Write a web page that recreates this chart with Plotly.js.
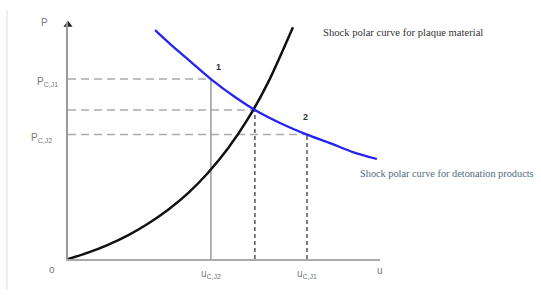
<!DOCTYPE html>
<html>
<head>
<meta charset="utf-8">
<script src="https://cdn.plot.ly/plotly-3.0.1.min.js"></script>
<style>html,body{margin:0;padding:0;background:#fff;}#chart{width:541px;height:295px;}</style>
</head>
<body>
<div id="chart"></div>
<script>
// Shock polar curve for plaque material (u, P)
var plaqueU = [0, 0.64, 1.28, 1.92, 2.56, 3.21, 3.85, 4.49, 5.13, 5.77, 6.41, 7.21];
var plaqueP = [0, 0.27, 0.60, 1.00, 1.49, 2.08, 2.78, 3.64, 4.67, 5.92, 7.44, 9.78];
// Shock polar curve for detonation products (u, P)
var detonU = [2.79, 3.37, 3.91, 4.62, 5.42, 5.99, 6.83, 7.66, 8.40, 9.13, 9.90];
var detonP = [9.66, 8.96, 8.35, 7.55, 6.77, 6.29, 5.72, 5.25, 4.89, 4.51, 4.22];
// characteristic levels
var uCJ2 = 4.58, uMid = 5.99, uCJ1 = 7.66;
var pCJ1 = 7.59, pMid = 6.29, pCJ2 = 5.25;
var axisMax = 10;
var pointLabels = ["1", "2"];
var tickLabelsP = ["P<sub>C,J1</sub>", "P<sub>C,J2</sub>"];
var tickLabelsU = ["u<sub>C,J2</sub>", "u<sub>C,J1</sub>"];
var axisLabels = ["P", "u", "o"];
var curveNames = ["Shock polar curve for plaque material", "Shock polar curve for detonation products"];

var grayDash = {color: '#aaaaaa', width: 1.5, dash: '8px,5px'};
var darkDash = {color: '#555555', width: 1.5, dash: '4px,3px'};

var traces = [
  {x: [0, uCJ2], y: [pCJ1, pCJ1], mode: 'lines', line: grayDash},
  {x: [0, uMid], y: [pMid, pMid], mode: 'lines', line: grayDash},
  {x: [0, uCJ1], y: [pCJ2, pCJ2], mode: 'lines', line: grayDash},
  {x: [uCJ2, uCJ2], y: [0, pCJ1], mode: 'lines', line: {color: '#999999', width: 1.5}},
  {x: [uMid, uMid], y: [0, pMid], mode: 'lines', line: darkDash},
  {x: [uCJ1, uCJ1], y: [0, pCJ2], mode: 'lines', line: darkDash},
  {x: plaqueU, y: plaqueP, mode: 'lines', line: {color: '#111111', width: 2.5, shape: 'spline', smoothing: 0.8}},
  {x: detonU, y: detonP, mode: 'lines', line: {color: '#2424f0', width: 2.3, shape: 'spline', smoothing: 0.8}},
  {x: [0], y: [axisMax - 0.12], mode: 'markers', marker: {symbol: 'triangle-up', size: 8, color: '#222222'}, cliponaxis: false}
];
traces.forEach(function(t){ t.showlegend = false; t.hoverinfo = 'skip'; });

var lblFont = {family: 'Liberation Sans, Arial, sans-serif', size: 10, color: '#777777'};
var serif = 'Liberation Serif, Times New Roman, serif';
function ann(o){ o.showarrow = false; if(!o.xanchor) o.xanchor = 'center'; if(!o.yanchor) o.yanchor = 'middle'; return o; }

var annotations = [
  ann({xref: 'paper', yref: 'paper', x: -0.074, y: 1.0, text: axisLabels[0], font: lblFont}),
  ann({xref: 'paper', yref: 'paper', x: 1.0, y: -0.047, text: axisLabels[1], font: lblFont}),
  ann({xref: 'paper', yref: 'paper', x: -0.051, y: -0.045, text: axisLabels[2], font: {family: lblFont.family, size: 10, color: '#777777'}}),
  ann({xref: 'x', yref: 'y', x: 0, y: pCJ1, xshift: -8, yshift: -3, xanchor: 'right', text: tickLabelsP[0], font: lblFont}),
  ann({xref: 'x', yref: 'y', x: 0, y: pCJ2, xshift: -14, yshift: -3, xanchor: 'right', text: tickLabelsP[1], font: lblFont}),
  ann({xref: 'x', yref: 'y', x: uCJ2, y: 0, yshift: -15, text: tickLabelsU[0], font: lblFont}),
  ann({xref: 'x', yref: 'y', x: uCJ1, y: 0, yshift: -15, text: tickLabelsU[1], font: lblFont}),
  ann({xref: 'x', yref: 'y', x: uCJ2, y: pCJ1, xshift: 8, yshift: 12, text: '<b>' + pointLabels[0] + '</b>', font: {family: 'Liberation Sans, Arial', size: 9, color: '#333333'}}),
  ann({xref: 'x', yref: 'y', x: uCJ1, y: pCJ2, xshift: -1, yshift: 18, text: '<b>' + pointLabels[1] + '</b>', font: {family: 'Liberation Sans, Arial', size: 9, color: '#333333'}}),
  ann({xref: 'paper', yref: 'paper', x: 0.812, y: 0.954, xanchor: 'left', text: curveNames[0], font: {family: serif, size: 10.6, color: '#333333'}}),
  ann({xref: 'paper', yref: 'paper', x: 0.929, y: 0.359, xanchor: 'left', text: curveNames[1], font: {family: serif, size: 10.3, color: '#4f6b82'}})
];

var layout = {
  width: 541, height: 295,
  margin: {l: 68, r: 161, t: 22, b: 36, pad: 0},
  paper_bgcolor: '#ffffff', plot_bgcolor: '#ffffff',
  xaxis: {range: [0, axisMax], showline: true, linecolor: '#aaaaaa', linewidth: 1.5, showgrid: false, zeroline: false, showticklabels: false, ticks: '', fixedrange: true},
  yaxis: {range: [0, axisMax], showline: true, linecolor: '#999999', linewidth: 2, showgrid: false, zeroline: false, showticklabels: false, ticks: '', fixedrange: true},
  shapes: [
    {type: 'line', xref: 'paper', yref: 'paper', x0: -0.1955, x1: -0.1955, y0: 1.05, y1: -0.131, line: {color: '#dddddd', width: 1}}
  ],
  annotations: annotations,
  showlegend: false
};

Plotly.newPlot('chart', traces, layout, {displayModeBar: false, staticPlot: true});
</script>
</body>
</html>
